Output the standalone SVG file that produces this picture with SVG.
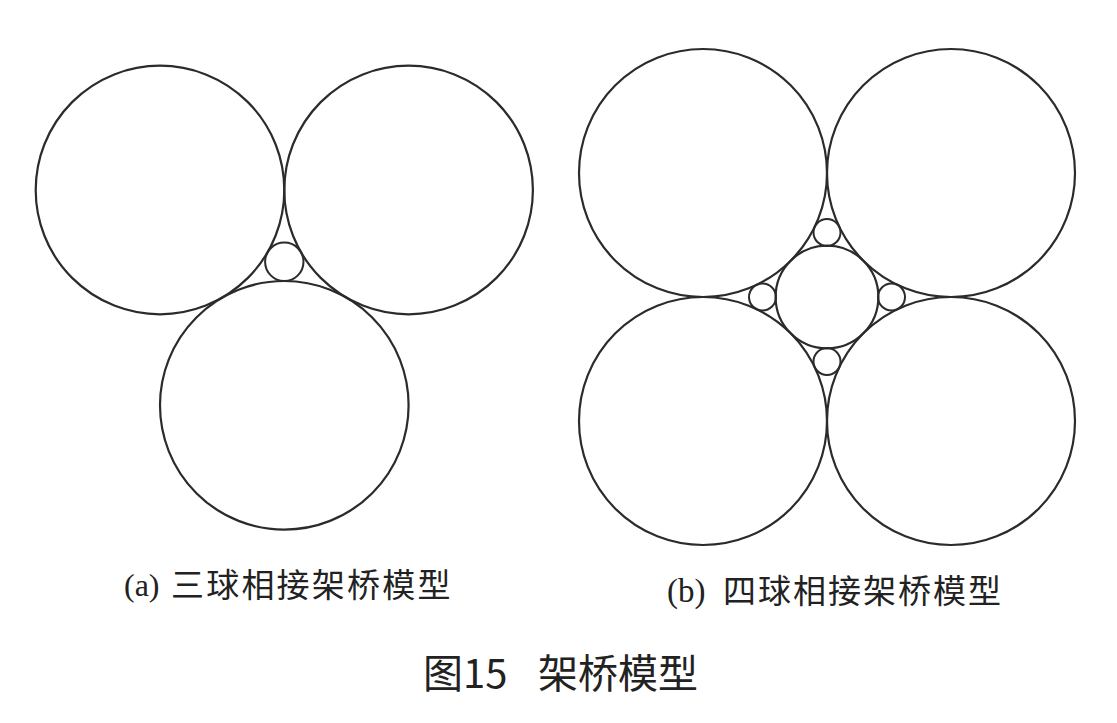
<svg xmlns="http://www.w3.org/2000/svg" width="1117" height="723" viewBox="0 0 1117 723">
<style>
.c{fill:none;stroke:#2b2b2b;stroke-width:2.2}
.s{fill:none;stroke:#2b2b2b;stroke-width:2}
.lat{font-family:"Liberation Serif",serif;fill:#222}
.cjk{font-family:"Noto Sans CJK SC",sans-serif;fill:#222}
</style>
<rect width="1117" height="723" fill="#fff"/>
<g id="panel-a">
<circle id="a-top-left" class="c" cx="160" cy="190" r="124.3"/>
<circle id="a-top-right" class="c" cx="408.6" cy="190" r="124.3"/>
<circle id="a-bottom" class="c" cx="284.3" cy="405.3" r="124.3"/>
<circle id="a-small" class="s" cx="284.3" cy="261.8" r="19.2"/>
</g>
<g id="panel-b">
<circle id="b-tl" class="c" cx="703" cy="173" r="124"/>
<circle id="b-tr" class="c" cx="951" cy="173" r="124"/>
<circle id="b-bl" class="c" cx="703" cy="421" r="124"/>
<circle id="b-br" class="c" cx="951" cy="421" r="124"/>
<circle id="b-center" class="c" cx="827" cy="297" r="51.4"/>
<circle id="b-small-top" class="s" cx="827" cy="232.5" r="13.5"/>
<circle id="b-small-bottom" class="s" cx="827" cy="361.5" r="13.5"/>
<circle id="b-small-left" class="s" cx="762.5" cy="297" r="13.5"/>
<circle id="b-small-right" class="s" cx="891.5" cy="297" r="13.5"/>
</g>
<g id="connectors"></g>
<g id="caption-a">
<text class="lat" x="124" y="596" font-size="32">(a)</text>
<text class="cjk" x="171" y="597" font-size="33" letter-spacing="2.2">三球相接架桥模型</text>
</g>
<g id="caption-b">
<text class="lat" x="667" y="602" font-size="33">(b)</text>
<text class="cjk" x="723" y="603" font-size="33" letter-spacing="2">四球相接架桥模型</text>
</g>
<g id="title">
<text class="cjk" x="423" y="688" font-size="40" fill="#222">图15</text>
<text class="cjk" x="538" y="688" font-size="40" fill="#222">架桥模型</text>
</g>
</svg>
